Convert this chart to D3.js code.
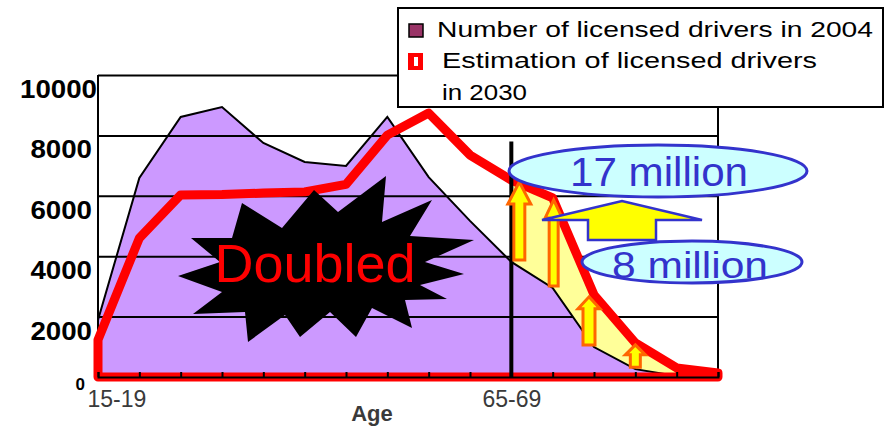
<!DOCTYPE html>
<html lang="en">
<head>
<meta charset="UTF-8">
<title>Licensed drivers 2004 vs 2030</title>
<script src="https://d3js.org/d3.v7.min.js"></script>
<style>
    body { margin: 0; padding: 0; background: #fff; }
    svg text { font-family: "Liberation Sans", Arial, sans-serif; }
</style>
</head>
<body>
<div id="chart"></div>
<script>
    // Age groups and number of licensed drivers (thousands)
    const categories = ["15-19", "20-24", "25-29", "30-34", "35-39", "40-44", "45-49", "50-54",
                        "55-59", "60-64", "65-69", "70-74", "75-79", "80-84", "85-89", "90-"];
    const drivers2004 = [1890, 6590, 8610, 8940, 7750, 7120, 6990, 8610, 6620, 5170, 3810, 2950, 990, 260, 30, 0];
    const drivers2030 = [1230, 4600, 6030, 6040, 6090, 6130, 6380, 8010, 8740, 7350, 6520, 5930, 2720, 1130, 300, 130];
    const yTicks = [0, 2000, 4000, 6000, 8000, 10000];
    const xTickLabels = ["15-19", "65-69"];
    const arrowCats = ["65-69", "70-74", "75-79", "80-84"];
    const legendLabels = ["Number of licensed drivers in 2004", "Estimation of licensed drivers", "in 2030"];

    const W = 886, H = 427;
    const margin = { top: 75, right: 168, bottom: 50, left: 98 },
          width = W - margin.left - margin.right,
          height = H - margin.top - margin.bottom;

    const svg = d3.select("#chart").append("svg")
        .attr("width", W)
        .attr("height", H);

    const g = svg.append("g")
        .attr("transform", `translate(${margin.left},${margin.top})`);

    const x = d3.scalePoint()
        .domain(categories)
        .range([0, width]);

    const y = d3.scaleLinear()
        .domain([0, 10000])
        .range([height, 0]);

    const rows = categories.map((c, i) => ({ cat: c, v04: drivers2004[i], v30: drivers2030[i] }));

    // 2004 area
    g.append("path")
        .datum(rows)
        .attr("fill", "#cc99ff")
        .attr("d", d3.area().x(d => x(d.cat)).y0(y(0)).y1(d => y(d.v04)));

    // gridlines
    const yAxis = g.append("g")
        .call(d3.axisLeft(y).tickValues(yTicks).tickSize(-width).tickFormat(d3.format("d")));
    yAxis.select(".domain").remove();
    yAxis.selectAll(".tick line").attr("stroke", "#000").attr("stroke-width", 2);
    yAxis.selectAll(".tick text")
        .attr("x", d => d === 10000 ? -1 : -6)
        .attr("dy", d => d === 0 ? "0.75em" : "0.9em")
        .attr("fill", "#000")
        .attr("font-weight", "bold")
        .attr("font-size", d => d === 0 ? 17 : 25)
        .attr("textLength", d => d === 0 ? null : String(d).length * 15.4)
        .attr("lengthAdjust", "spacingAndGlyphs");
    yAxis.selectAll(".tick").filter(d => d === 0).select("text").attr("x", -13);

    // right border
    g.append("line")
        .attr("x1", width).attr("x2", width)
        .attr("y1", y(10000)).attr("y2", y(0))
        .attr("stroke", "#000").attr("stroke-width", 2);

    // increase between 2004 and 2030 for the elderly
    const elderly = rows.slice(categories.indexOf("65-69"));
    g.append("path")
        .datum(elderly)
        .attr("fill", "#ffff99")
        .attr("d", d3.area().x(d => x(d.cat)).y0(d => y(d.v04)).y1(d => y(d.v30)));

    g.append("path")
        .datum(rows)
        .attr("fill", "none")
        .attr("stroke", "#000")
        .attr("stroke-width", 2)
        .attr("d", d3.line().x(d => x(d.cat)).y(d => y(d.v04)));

    // left axis line
    g.append("line")
        .attr("x1", 0).attr("x2", 0)
        .attr("y1", y(10000)).attr("y2", y(0))
        .attr("stroke", "#000").attr("stroke-width", 2);

    // starburst
    const burst = [[242,203],[282,228],[314,190],[338,212],[386,176],[382,222],[432,200],[410,236],
                   [474,240],[425,262],[464,274],[420,285],[447,299],[405,300],[412,328],[372,308],
                   [356,337],[330,312],[300,337],[285,315],[248,342],[245,312],[193,314],[222,292],
                   [178,276],[220,262],[191,238],[232,238]];
    svg.append("path")
        .attr("d", "M" + burst.join("L") + "Z")
        .attr("fill", "#000");
    svg.append("text")
        .attr("x", 315).attr("y", 282)
        .attr("text-anchor", "middle")
        .attr("font-size", 54)
        .attr("fill", "#ff0000")
        .text("Doubled");

    // 2030 outline
    g.append("path")
        .datum(rows)
        .attr("fill", "none")
        .attr("stroke", "#ff0000")
        .attr("stroke-width", 9)
        .attr("stroke-linejoin", "round")
        .attr("d", d3.area().x(d => x(d.cat)).y0(y(0)).y1(d => y(d.v30)));

    // x axis
    const xAxis = g.append("g")
        .attr("transform", `translate(0,${height})`)
        .call(d3.axisBottom(x).tickSize(-5).tickFormat(d => xTickLabels.includes(d) ? d : ""));
    xAxis.select(".domain").attr("stroke", "#000").attr("stroke-width", 2);
    xAxis.selectAll(".tick line").attr("stroke", "#000").attr("stroke-width", 2);
    xAxis.selectAll(".tick text")
        .attr("y", 30).attr("dy", 0)
        .attr("font-size", 23)
        .attr("fill", "#3a3a3a");
    xAxis.selectAll(".tick").filter(d => d === "15-19").select("text")
        .attr("text-anchor", "start").attr("x", -11);

    g.append("text")
        .attr("x", 274).attr("y", 346)
        .attr("text-anchor", "middle")
        .attr("font-size", 22)
        .attr("font-weight", "bold")
        .attr("fill", "#3a3a3a")
        .text("Age");

    // divider at 65-69
    g.append("line")
        .attr("x1", x("65-69")).attr("x2", x("65-69"))
        .attr("y1", y(7800)).attr("y2", y(0))
        .attr("stroke", "#000").attr("stroke-width", 4);

    // small arrows
    const arrowStyle = [
        { dx: 8, hw: 23, hh: 22, sw: 11 },
        { dx: 1, hw: 17, hh: 18, sw: 9 },
        { dx: -5, hw: 22, hh: 12, sw: 12 },
        { dx: 0, hw: 20, hh: 10, sw: 10 }
    ];
    arrowCats.forEach((c, i) => {
        const s = arrowStyle[i];
        const i0 = categories.indexOf(c);
        const cx = x(c) + s.dx,
              top = y(drivers2030[i0]) + 2,
              bot = y(drivers2004[i0]) - 2;
        const p = [[cx, top], [cx + s.hw / 2, top + s.hh], [cx + s.sw / 2, top + s.hh], [cx + s.sw / 2, bot],
                   [cx - s.sw / 2, bot], [cx - s.sw / 2, top + s.hh], [cx - s.hw / 2, top + s.hh]];
        g.append("path")
            .attr("d", "M" + p.join("L") + "Z")
            .attr("fill", "#ffff00")
            .attr("stroke", "#ff6600")
            .attr("stroke-width", 3);
    });

    // ellipses and block arrow
    svg.append("ellipse")
        .attr("cx", 658).attr("cy", 171).attr("rx", 149).attr("ry", 26)
        .attr("fill", "#ccffff").attr("stroke", "#3333cc").attr("stroke-width", 3);
    svg.append("text")
        .attr("x", 570).attr("y", 186)
        .attr("font-size", 40)
        .attr("textLength", 178)
        .attr("lengthAdjust", "spacingAndGlyphs")
        .attr("fill", "#3333cc")
        .text("17 million");

    svg.append("path")
        .attr("d", "M542,220L622,201L702,220L656,220L656,240L588,240L588,220Z")
        .attr("fill", "#ffff00")
        .attr("stroke", "#3333cc")
        .attr("stroke-width", 2.5);

    svg.append("ellipse")
        .attr("cx", 692).attr("cy", 262).attr("rx", 110).attr("ry", 21)
        .attr("fill", "#ccffff").attr("stroke", "#3333cc").attr("stroke-width", 3);
    svg.append("text")
        .attr("x", 612).attr("y", 278)
        .attr("font-size", 36)
        .attr("textLength", 156)
        .attr("lengthAdjust", "spacingAndGlyphs")
        .attr("fill", "#3333cc")
        .text("8 million");

    // legend
    const lg = svg.append("g");
    lg.append("rect")
        .attr("x", 398).attr("y", 8).attr("width", 485).attr("height", 99)
        .attr("fill", "#fff").attr("stroke", "#000").attr("stroke-width", 2);
    lg.append("rect")
        .attr("x", 409).attr("y", 24).attr("width", 14).attr("height", 13)
        .attr("fill", "#993366").attr("stroke", "#000").attr("stroke-width", 1.5);
    lg.append("rect")
        .attr("x", 408).attr("y", 53).attr("width", 15).attr("height", 17)
        .attr("fill", "#ff0000");
    lg.append("rect")
        .attr("x", 414).attr("y", 57).attr("width", 4).attr("height", 9)
        .attr("fill", "#fff");
    lg.selectAll("text.leg")
        .data(legendLabels)
        .enter().append("text")
        .attr("class", "leg")
        .attr("x", (d, i) => i === 0 ? 437 : 442)
        .attr("y", (d, i) => [37, 68, 100][i])
        .attr("font-size", 22)
        .attr("textLength", (d, i) => [436, 375, 85][i])
        .attr("lengthAdjust", "spacingAndGlyphs")
        .attr("fill", "#000")
        .text(d => d);
</script>
</body>
</html>
